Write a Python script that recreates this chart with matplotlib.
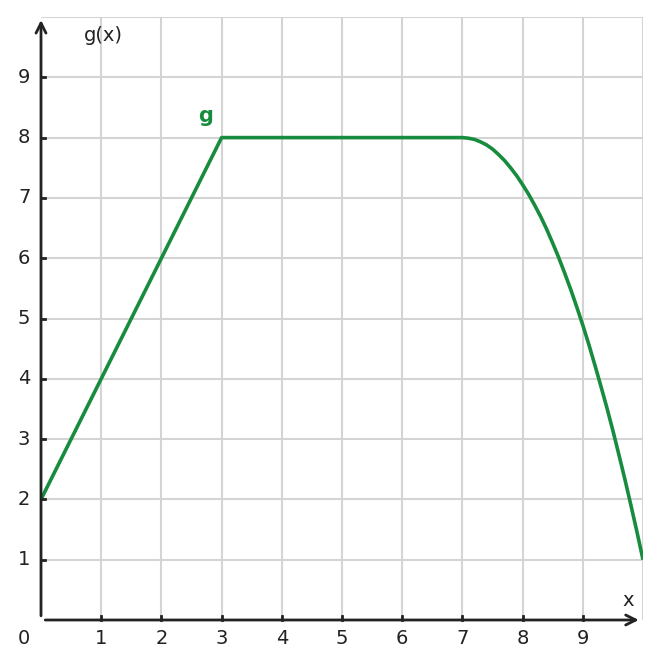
import numpy as np
import matplotlib.pyplot as plt

# values
x_line = [0, 3, 7]
y_line = [2, 8, 8]
x_curve = [7.0, 7.1, 7.2, 7.3, 7.4, 7.5, 7.6, 7.7, 7.8, 7.9, 8.0,
           8.1, 8.2, 8.3, 8.4, 8.5, 8.6, 8.7, 8.8, 8.9, 9.0,
           9.1, 9.2, 9.3, 9.4, 9.5, 9.6, 9.7, 9.8, 9.9, 10.0]
y_curve = [8.00, 7.99, 7.97, 7.93, 7.88, 7.81, 7.72, 7.62, 7.50, 7.37, 7.22,
           7.06, 6.88, 6.69, 6.48, 6.25, 6.01, 5.75, 5.48, 5.19, 4.89,
           4.57, 4.23, 3.88, 3.52, 3.14, 2.74, 2.33, 1.90, 1.46, 1.00]
x_ticks = [1, 2, 3, 4, 5, 6, 7, 8, 9]
y_ticks = [1, 2, 3, 4, 5, 6, 7, 8, 9]

green = '#178c3e'
dark = '#222222'
fs = 14

fig = plt.figure(figsize=(6.61, 6.68), dpi=100)
ax = fig.add_axes([41 / 661, 48 / 668, 602 / 661, 603 / 668])
ax.set_xlim(0, 10)
ax.set_ylim(0, 10)
for s in ax.spines.values():
    s.set_visible(False)
ax.set_xticks([])
ax.set_yticks([])

# grid
for v in x_ticks + [10]:
    ax.axvline(v, color='#d4d4d4', lw=1.5, zorder=0)
for v in y_ticks + [10]:
    ax.axhline(v, color='#d4d4d4', lw=1.5, zorder=0)

# curve
ax.plot(x_line + x_curve[1:], y_line + y_curve[1:], color=green, lw=2.6,
        solid_capstyle='butt', solid_joinstyle='round', zorder=3)

# axes with arrows
ax.annotate('', xy=(9.93, 0), xytext=(0.07, 0),
            arrowprops=dict(arrowstyle='->', color=dark, lw=2, mutation_scale=18,
                            shrinkA=0, shrinkB=0), annotation_clip=False)
ax.annotate('', xy=(0, 9.95), xytext=(0, 0.07),
            arrowprops=dict(arrowstyle='->', color=dark, lw=2, mutation_scale=18,
                            shrinkA=0, shrinkB=0), annotation_clip=False)

# ticks and labels
for v in x_ticks:
    ax.plot([v, v], [0, 0.07], color=dark, lw=2, clip_on=False, zorder=4)
    ax.text(v, -0.3, str(v), ha='center', va='center', fontsize=fs, color=dark)
for v in y_ticks:
    ax.plot([0, 0.07], [v, v], color=dark, lw=2, clip_on=False, zorder=4)
    ax.text(-0.28, v, str(v), ha='center', va='center', fontsize=fs, color=dark)
ax.text(-0.28, -0.3, '0', ha='center', va='center', fontsize=fs, color=dark)

ax.text(1.03, 9.7, 'g(x)', ha='center', va='center', fontsize=fs, color=dark)
ax.text(9.75, 0.33, 'x', ha='center', va='center', fontsize=fs, color=dark)
ax.text(2.74, 8.36, 'g', ha='center', va='center', fontsize=15, color=green,
        fontweight='bold')

plt.savefig('out.png', dpi=100)
